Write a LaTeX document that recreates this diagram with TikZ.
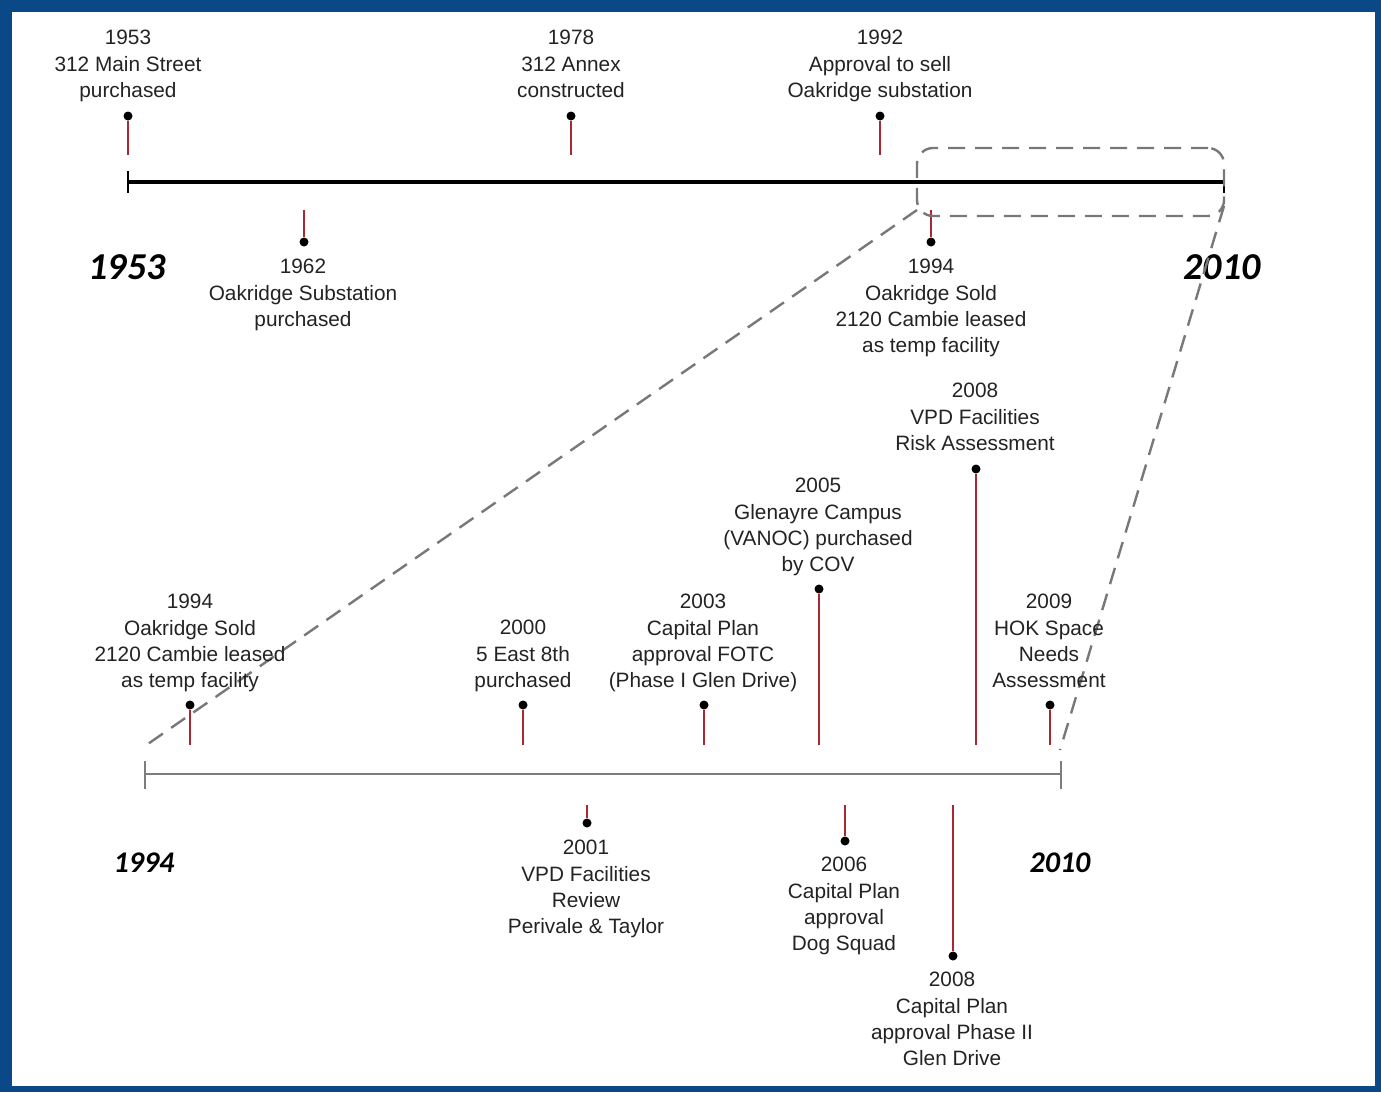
\documentclass[tikz,border=0pt]{standalone}
\usepackage{fontspec}
\setmainfont{Liberation Sans}
\newfontfamily\yrfont{Carlito}
\definecolor{frameblue}{RGB}{10,72,135}
\definecolor{stemred}{RGB}{170,40,50}
\definecolor{dashgray}{RGB}{120,120,120}
\definecolor{axisgray}{RGB}{125,125,125}
\definecolor{txt}{RGB}{35,35,35}
\begin{document}
\begin{tikzpicture}[x=1pt,y=-1pt,
  stem/.style={draw=stemred,line width=1.6pt},
  dotm/.style={circle,fill=black,inner sep=0pt,minimum size=9pt},
  lbl/.style={anchor=north,align=center,inner sep=0pt,text=txt,font=\fontsize{20.8}{26.3}\selectfont},
  bigyr/.style={font=\yrfont\bfseries\itshape\fontsize{38}{40}\selectfont,inner sep=0pt},
  smyr/.style={font=\yrfont\bfseries\itshape\fontsize{30}{32}\selectfont,inner sep=0pt},
  zoomdash/.style={draw=dashgray,line width=2.4pt,dash pattern=on 17pt off 10pt}]
\useasboundingbox (0,0) rectangle (1381,1092);
\fill[frameblue] (0,0) rectangle (1381,1092);
\fill[white] (12,12) rectangle (1375,1086);

% ---- top axis ----
\coordinate (A0) at (128,182);
\coordinate (A1) at (1224,182);
\draw[line width=3.6pt,black] (A0) -- (A1);
\draw[line width=1.8pt] (128,171) -- (128,193);
\draw[line width=1.8pt] (1224,171) -- (1224,193);
\node[bigyr] (Y1953) at (127,267) {1953};
\node[bigyr] (Y2010) at (1222,267) {2010};

% top events above
\node[dotm] (d1) at (128,116) {};
\coordinate (e1) at (128,155);
\draw[stem] (d1) -- (e1);
\node[lbl] (l1) at (128,30) {1953\\312 Main Street\\purchased};

\node[dotm] (d2) at (571,116) {};
\coordinate (e2) at (571,155);
\draw[stem] (d2) -- (e2);
\node[lbl] (l2) at (571,30) {1978\\312 Annex\\constructed};

\node[dotm] (d3) at (880,116) {};
\coordinate (e3) at (880,155);
\draw[stem] (d3) -- (e3);
\node[lbl] (l3) at (880,30) {1992\\Approval to sell\\Oakridge substation};

% top events below
\node[dotm] (d4) at (304,242) {};
\coordinate (e4) at (304,210);
\draw[stem] (e4) -- (d4);
\node[lbl] (l4) at (303,259) {1962\\Oakridge Substation\\purchased};

\node[dotm] (d5) at (931,242) {};
\coordinate (e5) at (931,210);
\draw[stem] (e5) -- (d5);
\node[lbl] (l5) at (931,259) {1994\\Oakridge Sold\\2120 Cambie leased\\as temp facility};

% ---- zoom box ----
\node[zoomdash,rounded corners=16pt,minimum width=307pt,minimum height=68pt,inner sep=0pt] (zb) at (1070.5,182) {};
\coordinate (B0) at (145,774);
\coordinate (B1) at (1061,774);
\coordinate (z0) at (917,210);
\coordinate (z1) at (1224,206);
\coordinate (zl) at (145,746);
\coordinate (zr) at (1060,750);
\draw[zoomdash] (z0) -- (zl);
\draw[zoomdash] (z1) -- (zr);

% ---- bottom axis ----
\draw[line width=2.6pt,axisgray] (B0) -- (B1);
\draw[line width=1.8pt,axisgray] (145,761) -- (145,789);
\draw[line width=1.8pt,axisgray] (1061,761) -- (1061,789);
\node[smyr] (Y1994) at (144,863) {1994};
\node[smyr] (Y2010b) at (1060,863) {2010};

% bottom events above
\node[dotm] (b1) at (190,705) {};
\coordinate (f1) at (190,745);
\draw[stem] (b1) -- (f1);
\node[lbl] (m1) at (190,594) {1994\\Oakridge Sold\\2120 Cambie leased\\as temp facility};

\node[dotm] (b2) at (523,705) {};
\coordinate (f2) at (523,745);
\draw[stem] (b2) -- (f2);
\node[lbl] (m2) at (523,620) {2000\\5 East 8th\\purchased};

\node[dotm] (b3) at (704,705) {};
\coordinate (f3) at (704,745);
\draw[stem] (b3) -- (f3);
\node[lbl] (m3) at (703,594) {2003\\Capital Plan\\approval FOTC\\(Phase I Glen Drive)};

\node[dotm] (b4) at (819,589) {};
\coordinate (f4) at (819,745);
\draw[stem] (b4) -- (f4);
\node[lbl] (m4) at (818,478) {2005\\Glenayre Campus\\(VANOC) purchased\\by COV};

\node[dotm] (b5) at (976,469) {};
\coordinate (f5) at (976,745);
\draw[stem] (b5) -- (f5);
\node[lbl] (m5) at (975,383) {2008\\VPD Facilities\\Risk Assessment};

\node[dotm] (b6) at (1050,705) {};
\coordinate (f6) at (1050,745);
\draw[stem] (b6) -- (f6);
\node[lbl] (m6) at (1049,594) {2009\\HOK Space\\Needs\\Assessment};

% bottom events below
\node[dotm] (b7) at (587,823) {};
\coordinate (f7) at (587,805);
\draw[stem] (f7) -- (b7);
\node[lbl] (m7) at (586,840) {2001\\VPD Facilities\\Review\\Perivale \& Taylor};

\node[dotm] (b8) at (845,841) {};
\coordinate (f8) at (845,805);
\draw[stem] (f8) -- (b8);
\node[lbl] (m8) at (844,857) {2006\\Capital Plan\\approval\\Dog Squad};

\node[dotm] (b9) at (953,956) {};
\coordinate (f9) at (953,805);
\draw[stem] (f9) -- (b9);
\node[lbl] (m9) at (952,972) {2008\\Capital Plan\\approval Phase II\\Glen Drive};
\end{tikzpicture}
\end{document}
